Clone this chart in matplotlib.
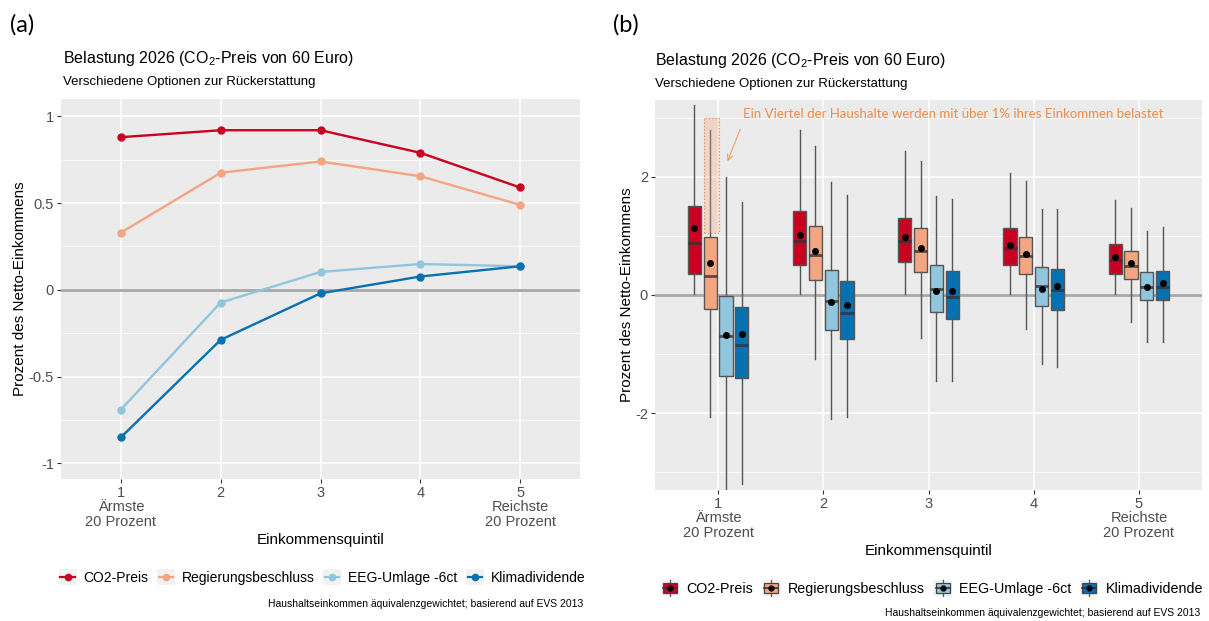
import numpy as np
import matplotlib.pyplot as plt
from matplotlib.lines import Line2D
from matplotlib.patches import Rectangle, Patch
from matplotlib.legend_handler import HandlerBase

plt.rcParams['font.family'] = ['Liberation Sans', 'DejaVu Sans']
plt.rcParams['mathtext.fontset'] = 'custom'
plt.rcParams['mathtext.rm'] = 'Liberation Sans'
plt.rcParams['mathtext.it'] = 'Liberation Sans:italic'

# data
quintile = [1, 2, 3, 4, 5]
tick_labels = ['1\nÄrmste\n20 Prozent', '2', '3', '4', '5\nReichste\n20 Prozent']
series = ['CO2-Preis', 'Regierungsbeschluss', 'EEG-Umlage -6ct', 'Klimadividende']
colors = ['#CA0020', '#F4A582', '#92C5DE', '#0571B0']

# (a) mean burden per quintile
co2_mean = [0.88, 0.92, 0.92, 0.79, 0.59]
reg_mean = [0.33, 0.675, 0.74, 0.655, 0.49]
eeg_mean = [-0.69, -0.073, 0.103, 0.149, 0.136]
klima_mean = [-0.85, -0.288, -0.02, 0.077, 0.136]

# (b) box statistics per quintile
co2_box = dict(whislo=[0.02, 0.02, 0.02, 0.02, 0.02],
               q1=[0.35, 0.50, 0.56, 0.50, 0.36],
               med=[0.88, 0.92, 0.92, 0.79, 0.60],
               q3=[1.50, 1.42, 1.31, 1.13, 0.86],
               whishi=[3.22, 2.79, 2.43, 2.07, 1.60],
               mean=[1.14, 1.01, 0.98, 0.85, 0.65])
reg_box = dict(whislo=[-2.06, -1.09, -0.73, -0.58, -0.45],
               q1=[-0.24, 0.26, 0.39, 0.35, 0.27],
               med=[0.33, 0.68, 0.74, 0.66, 0.49],
               q3=[0.99, 1.17, 1.13, 0.99, 0.75],
               whishi=[2.79, 2.53, 2.26, 1.93, 1.47],
               mean=[0.54, 0.75, 0.79, 0.70, 0.54])
eeg_box = dict(whislo=[-3.6, -2.10, -1.46, -1.16, -0.79],
               q1=[-1.37, -0.60, -0.28, -0.18, -0.09],
               med=[-0.70, -0.10, 0.11, 0.15, 0.14],
               q3=[-0.02, 0.42, 0.50, 0.48, 0.39],
               whishi=[1.99, 1.92, 1.68, 1.46, 1.09],
               mean=[-0.67, -0.12, 0.07, 0.11, 0.13])
klima_box = dict(whislo=[-3.19, -2.06, -1.45, -1.22, -0.80],
                 q1=[-1.41, -0.74, -0.40, -0.25, -0.09],
                 med=[-0.84, -0.30, -0.03, 0.08, 0.14],
                 q3=[-0.21, 0.24, 0.41, 0.44, 0.41],
                 whishi=[1.58, 1.69, 1.63, 1.46, 1.15],
                 mean=[-0.66, -0.17, 0.07, 0.15, 0.20])

title = 'Belastung 2026 (CO$_2$-Preis von 60 Euro)'
subtitle = 'Verschiedene Optionen zur Rückerstattung'
caption = 'Haushaltseinkommen äquivalenzgewichtet; basierend auf EVS 2013'
note = 'Ein Viertel der Haushalte werden mit über 1% ihres Einkommen belastet'

TXT = '#4D4D4D'
ORANGE = '#F08C4A'


class LineKey(HandlerBase):
    def create_artists(self, legend, orig, xd, yd, w, h, fs, trans):
        bg = Rectangle((-xd, -yd), w, h, facecolor='#F2F2F2', edgecolor='none', transform=trans)
        ln = Line2D([-xd + 0.1 * w, -xd + 0.9 * w], [-yd + h / 2] * 2, color=orig.get_color(), lw=1.6,
                    transform=trans)
        dot = Line2D([-xd + w / 2], [-yd + h / 2], marker='o', ms=4.5, color=orig.get_color(), transform=trans)
        return [bg, ln, dot]


class BoxKey(HandlerBase):
    def create_artists(self, legend, orig, xd, yd, w, h, fs, trans):
        c = orig.get_facecolor()
        x0, y0 = -xd, -yd
        bg = Rectangle((x0, y0), w, h, facecolor='#F2F2F2', edgecolor='none', transform=trans)
        wl = Line2D([x0 + w / 2] * 2, [y0, y0 + h], color='#555555', lw=0.9, transform=trans)
        box = Rectangle((x0 + 0.12 * w, y0 + 0.2 * h), 0.76 * w, 0.6 * h, facecolor=c, edgecolor='#444444',
                        lw=0.9, transform=trans)
        md = Line2D([x0 + 0.12 * w, x0 + 0.88 * w], [y0 + h / 2] * 2, color='#333333', lw=1.2, transform=trans)
        dot = Line2D([x0 + w / 2], [y0 + h / 2], marker='o', ms=3.5, color='black', transform=trans)
        return [bg, wl, box, md, dot]


def style_axes(ax, ylim, majors, minors, ylabels):
    ax.set_facecolor('#EBEBEB')
    ax.set_xlim(0.4, 5.6)
    ax.set_ylim(*ylim)
    ax.set_xticks(quintile)
    ax.set_xticklabels(tick_labels, color=TXT, fontsize=10.5, linespacing=1.05)
    ax.set_yticks(majors)
    ax.set_yticklabels(ylabels, color=TXT, fontsize=10.5)
    ax.set_yticks(minors, minor=True)
    ax.grid(True, which='major', color='white', lw=1.1)
    ax.grid(True, which='minor', axis='y', color='white', lw=0.5)
    ax.tick_params(which='major', length=3, color='#333333', width=0.8, pad=2)
    ax.tick_params(which='minor', length=0)
    ax.set_axisbelow(True)
    for s in ax.spines.values():
        s.set_visible(False)
    ax.axhline(0, color='#A8A8A8', lw=2, zorder=1.5)
    ax.set_xlabel('Einkommensquintil', fontsize=11, color='black', labelpad=3)
    ax.set_ylabel('Prozent des Netto-Einkommens', fontsize=11, color='black', labelpad=1)


fig = plt.figure(figsize=(12.09, 6.21), dpi=100)

# ---------------- (a) ----------------
ax1 = fig.add_axes([61 / 1209, 1 - 479 / 621, 519 / 1209, 380 / 621])
style_axes(ax1, (-1.09, 1.1), [-1, -0.5, 0, 0.5, 1], [-0.75, -0.25, 0.25, 0.75],
           ['-1', '-0.5', '0', '0.5', '1'])
handles_a = []
for vals, c, name in zip([co2_mean, reg_mean, eeg_mean, klima_mean], colors, series):
    l, = ax1.plot(quintile, vals, color=c, lw=1.7, marker='o', ms=5, label=name, zorder=3)
    handles_a.append(l)

fig.text(10 / 1209, 1 - 25 / 621, '(a)', fontsize=17, family='Lato', va='center')
fig.text(63 / 1209, 1 - 59 / 621, title, fontsize=11.5, va='center')
fig.text(63 / 1209, 1 - 82 / 621, subtitle, fontsize=9.5, va='center')
fig.legend(handles=handles_a, labels=series, handler_map={Line2D: LineKey()}, loc='center',
           bbox_to_anchor=(322 / 1209, 1 - 577 / 621), ncol=4, frameon=False, fontsize=10,
           handlelength=1.3, handleheight=1.3, handletextpad=0.5, columnspacing=0.6)
fig.text(583 / 1209, 1 - 604 / 621, caption, fontsize=7.5, ha='right', va='center')

# ---------------- (b) ----------------
ax2 = fig.add_axes([655 / 1209, 1 - 490 / 621, 547 / 1209, 390 / 621])
style_axes(ax2, (-3.3, 3.3), [-2, 0, 2], [-3, -1, 1, 3], ['-2', '0', '2'])
offsets = [-0.225, -0.075, 0.075, 0.225]
handles_b = []
for stats, c, off, name in zip([co2_box, reg_box, eeg_box, klima_box], colors, offsets, series):
    bxp_stats = []
    for i in range(5):
        bxp_stats.append(dict(whislo=stats['whislo'][i], q1=stats['q1'][i], med=stats['med'][i],
                              q3=stats['q3'][i], whishi=stats['whishi'][i], mean=stats['mean'][i], fliers=[]))
    pos = [q + off for q in quintile]
    ax2.bxp(bxp_stats, positions=pos, widths=0.125, patch_artist=True, showmeans=True, showcaps=False,
            manage_ticks=False,
            boxprops=dict(facecolor=c, edgecolor='#555555', lw=1.0),
            whiskerprops=dict(color='#555555', lw=1.0),
            medianprops=dict(color='#333333', lw=2, alpha=0.8),
            meanprops=dict(marker='o', markerfacecolor='black', markeredgecolor='black', ms=4))
    handles_b.append(Patch(facecolor=c, edgecolor='#444444', label=name))

# annotation
ax2.add_patch(Rectangle((0.87, 1.05), 0.135, 1.95, facecolor='#F4A582', alpha=0.3, edgecolor='none', zorder=4))
ax2.add_patch(Rectangle((0.87, 1.05), 0.135, 1.95, facecolor='none', edgecolor=ORANGE, lw=0.9,
                        linestyle=':', zorder=4))
ax2.annotate('', xy=(1.08, 2.22), xytext=(1.22, 2.85),
             arrowprops=dict(arrowstyle='->', color=ORANGE, lw=0.8, alpha=0.8))
ax2.text(1.235, 3.07, note, color=ORANGE, fontsize=9.5, family='Lato', va='center')

fig.text(613 / 1209, 1 - 25 / 621, '(b)', fontsize=17, family='Lato', va='center')
fig.text(655 / 1209, 1 - 60 / 621, title, fontsize=11.5, va='center')
fig.text(655 / 1209, 1 - 84 / 621, subtitle, fontsize=9.5, va='center')
fig.legend(handles=handles_b, labels=series, handler_map={Patch: BoxKey()}, loc='center',
           bbox_to_anchor=(932 / 1209, 1 - 588 / 621), ncol=4, frameon=False, fontsize=10.3,
           handlelength=1.3, handleheight=1.3, handletextpad=0.5, columnspacing=0.6)
fig.text(1200 / 1209, 1 - 613 / 621, caption, fontsize=7.5, ha='right', va='center')

fig.savefig('out.png', dpi=100)
